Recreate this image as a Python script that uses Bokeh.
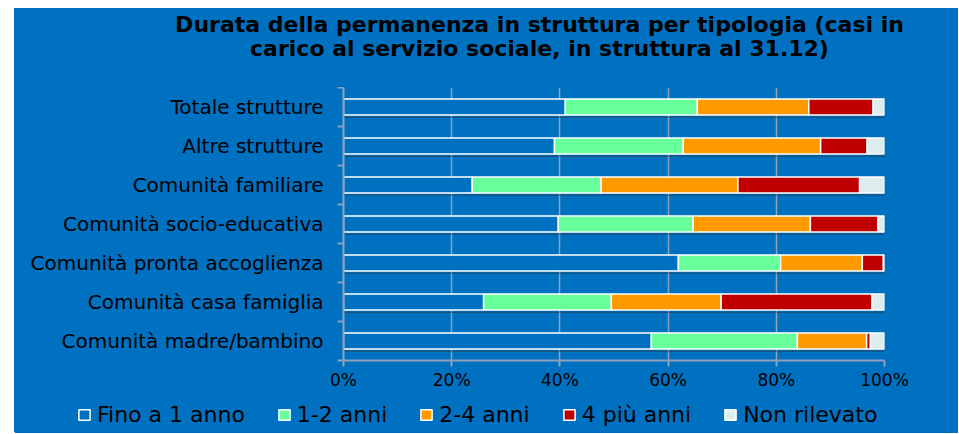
from bokeh.plotting import figure
from bokeh.layouts import column
from bokeh.models import ColumnDataSource, Range1d, FixedTicker, PrintfTickFormatter, Label
from bokeh.embed import file_html
from bokeh.resources import INLINE

# ---- data (top to bottom as in the chart) ----
categories = ["Totale strutture", "Altre strutture", "Comunità familiare",
              "Comunità socio-educativa", "Comunità pronta accoglienza",
              "Comunità casa famiglia", "Comunità madre/bambino"]
fino_1_anno = [41.0, 39.0, 23.8, 39.7, 61.9, 25.9, 56.9]
anni_1_2 = [24.4, 23.8, 23.8, 24.9, 18.9, 23.6, 27.0]
anni_2_4 = [20.6, 25.4, 25.3, 21.7, 15.1, 20.3, 12.8]
piu_4_anni = [11.9, 8.6, 22.5, 12.5, 3.9, 27.9, 0.7]
non_rilevato = [2.1, 3.2, 4.6, 1.2, 0.2, 2.3, 2.6]
series_labels = ["Fino a 1 anno", "1-2 anni", "2-4 anni", "4 più anni", "Non rilevato"]
x_ticks = [0, 20, 40, 60, 80, 100]
title_lines = ["Durata della permanenza in struttura per tipologia (casi in",
               "carico al servizio sociale, in struttura al 31.12)"]

colors = ["#0070C0", "#66FF99", "#FF9900", "#C00000", "#DDEDED"]
BG = "#0070C0"
GRID = "#8FA2BA"
FONT = "DejaVu Sans"
W = 944

n = len(categories)
ypos = [n - 1 - i for i in range(n)]
stackers = ["s0", "s1", "s2", "s3", "s4"]
source = ColumnDataSource(dict(y=ypos, s0=fino_1_anno, s1=anni_1_2, s2=anni_2_4,
                               s3=piu_4_anni, s4=non_rilevato,
                               x0=[0] * n, x1=[100] * n,
                               yd=[v - 0.26 for v in ypos]))


def blank(height, xr, yr):
    f = figure(width=W, height=height, output_backend="svg", toolbar_location=None,
               x_range=xr, y_range=yr, x_axis_location=None, y_axis_location=None,
               min_border=0, background_fill_color=BG, border_fill_color=BG,
               outline_line_color=None, frame_align=False)
    f.grid.grid_line_color = None
    return f


# ---- header with the two title lines ----
header = blank(79, Range1d(0, W), Range1d(0, 79))
for line, yb in zip(title_lines, [63, 39]):
    header.add_layout(Label(x=525, y=yb, text=line, text_align="center",
                            text_baseline="alphabetic", text_font=FONT,
                            text_font_style="bold", text_font_size="22px",
                            text_color="#000000"))

# ---- main chart ----
p = figure(width=W, height=308, output_backend="svg", toolbar_location=None,
           x_range=Range1d(0, 100), y_range=Range1d(-0.5, n - 0.5),
           min_border_left=329, min_border_right=74, min_border_top=0, min_border_bottom=35,
           background_fill_color=BG, border_fill_color=BG, outline_line_color=None)

p.segment(x0="x0", x1="x1", y0="yd", y1="yd", source=source,
          line_color="#333333", line_width=1.5, line_dash="1 1", line_alpha=0.85)
p.hbar_stack(stackers, y="y", height=0.41, color=colors, source=source,
             line_color="white", line_width=1.5)

p.xaxis.ticker = FixedTicker(ticks=x_ticks)
p.xaxis.formatter = PrintfTickFormatter(format="%d%%")
p.xaxis.axis_line_color = GRID
p.xaxis.axis_line_width = 2
p.xaxis.major_tick_line_color = GRID
p.xaxis.major_tick_line_width = 2
p.xaxis.major_tick_out = 6
p.xaxis.major_tick_in = 0
p.xaxis.minor_tick_line_color = None
p.xaxis.major_label_text_font = FONT
p.xaxis.major_label_text_font_size = "17px"
p.xaxis.major_label_text_color = "#000000"
p.xaxis.major_label_standoff = 3

p.yaxis.ticker = FixedTicker(ticks=ypos, minor_ticks=[v - 0.5 for v in range(n + 1)])
p.yaxis.major_label_overrides = {ypos[i]: categories[i] for i in range(n)}
p.yaxis.axis_line_color = GRID
p.yaxis.axis_line_width = 2
p.yaxis.major_tick_line_color = None
p.yaxis.major_tick_out = 0
p.yaxis.major_tick_in = 0
p.yaxis.minor_tick_line_color = GRID
p.yaxis.minor_tick_line_width = 2
p.yaxis.minor_tick_out = 6
p.yaxis.minor_tick_in = 0
p.yaxis.major_label_text_font = FONT
p.yaxis.major_label_text_font_size = "20px"
p.yaxis.major_label_text_color = "#000000"
p.yaxis.major_label_standoff = 14

p.xgrid.ticker = FixedTicker(ticks=x_ticks)
p.xgrid.grid_line_color = GRID
p.xgrid.grid_line_width = 1.5
p.ygrid.grid_line_color = None

# ---- footer with the legend (same series, drawn outside the footer's view) ----
footer = blank(38, Range1d(200, 300), Range1d(100, 101))
footer.hbar_stack(stackers, y="y", height=0.41, color=colors, source=source,
                  line_color="white", line_width=1.5, legend_label=series_labels)
lg = footer.legend[0]
lg.orientation = "horizontal"
lg.location = (63, 6)
lg.background_fill_alpha = 0
lg.border_line_color = None
lg.padding = 0
lg.margin = 0
lg.spacing = 32
lg.glyph_width = 14
lg.glyph_height = 13
lg.label_standoff = 6
lg.label_text_font = FONT
lg.label_text_font_size = "22px"
lg.label_text_color = "#000000"

layout = column(header, p, footer, spacing=0, margin=(8, 0, 0, 14),
                styles={"background-color": BG})
open("out.html", "w").write(file_html(layout, INLINE))
